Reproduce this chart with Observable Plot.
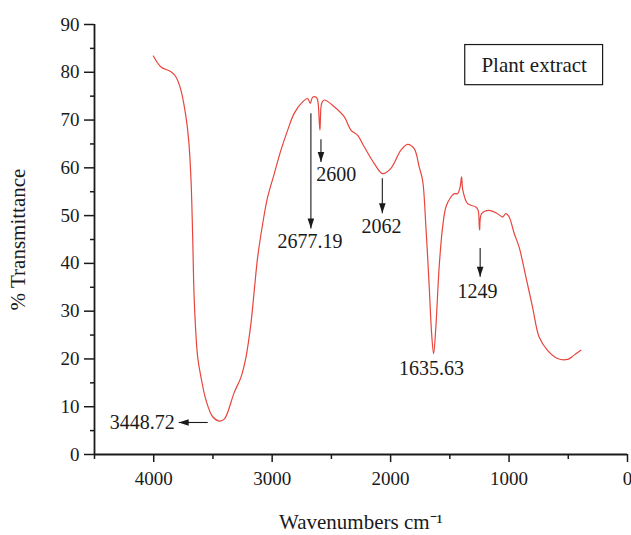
<!DOCTYPE html>
<html><head><meta charset="utf-8">
<script src="https://cdn.jsdelivr.net/npm/d3@7"></script>
<script src="https://cdn.jsdelivr.net/npm/@observablehq/plot@0.6"></script>
<style>body{margin:0;background:#fff}</style>
</head><body><div id="chart"></div>
<script>
// FTIR spectrum
const wavenumber = [4003,3938,3854,3812,3770,3728,3705,3685,3671,3657,3629,3601,3559,3502,3446,3404,3320,3263,3221,3179,3151,3122,3080,3038,2982,2926,2869,2814,2743,2700,2678,2658,2630,2616,2597,2582,2560,2476,2392,2335,2278,2223,2138,2068,1997,1913,1857,1801,1759,1730,1702,1674,1654,1637,1618,1590,1561,1533,1491,1463,1435,1413,1401,1390,1350,1280,1261,1249,1232,1168,1097,1055,1027,999,957,915,858,802,746,675,591,506,451,394];
const transmittance = [83.4,81.1,80.1,79.0,76.2,70.7,65.8,57.4,45.5,31.7,20.4,16.2,11.4,7.9,7.0,7.4,13.0,16.2,20.4,27.5,34.4,41.4,48.3,53.9,58.8,63.7,67.9,71.4,73.8,74.5,73.5,74.8,74.8,74.2,67.9,73.5,74.2,72.8,70.7,67.9,66.8,64.4,60.9,58.8,59.9,63.7,64.9,64.0,60.2,57.4,47.6,35.1,25.4,21.1,26.7,39.3,47.6,51.8,53.9,54.6,54.6,56.0,58.1,55.3,52.5,51.8,51.1,47.0,50.4,51.1,50.4,49.7,50.4,49.7,46.3,43.4,37.2,30.9,24.6,21.8,20.1,19.9,20.8,21.8];

const yTicks = [0,10,20,30,40,50,60,70,80,90];
const yMinor = [5,15,25,35,45,55,65,75,85];
const xTicks = [4000,3000,2000,1000,0];
const xMinor = [4500,3500,2500,1500,500];

// peak annotations
const peakLabel = ["3448.72","2677.19","2600","2062","1635.63","1249"];
const peakLabelX = [3823,2681,2459,2076,1654,1266];
const peakLabelY = [6.7,44.6,58.5,47.6,17.9,34.0];
const peakLabelAnchor = ["end","middle","middle","middle","middle","middle"];

const arrowX1 = [3544,2673,2588,2070,1244];
const arrowY1 = [6.7,71.4,66.0,57.8,43.2];
const arrowX2 = [3789,2673,2588,2070,1244];
const arrowY2 = [6.7,47.3,61.2,50.5,37.2];
const arrowRotate = [90,0,0,0,0];

const legendLabel = ["Plant extract"];

const spectrum = wavenumber.map((w,i)=>({w, t: transmittance[i]}));
const labels = peakLabel.map((s,i)=>({s, x: peakLabelX[i], y: peakLabelY[i], a: peakLabelAnchor[i]}));
const arrows = arrowX1.map((x1,i)=>({x1, y1: arrowY1[i], x2: arrowX2[i], y2: arrowY2[i], r: arrowRotate[i]}));

const head = {draw(ctx){ ctx.moveTo(0,0); ctx.lineTo(-3.3,-10); ctx.lineTo(3.3,-10); ctx.closePath(); }};

const chart = Plot.plot({
  width: 631, height: 535,
  marginLeft: 94, marginRight: 4, marginTop: 24, marginBottom: 81,
  style: {fontFamily: "'Liberation Serif', serif", fontSize: "19px", color: "#1a1a1a", background: "#fff", overflow: "visible"},
  x: {domain: [4500, 0]},
  y: {domain: [0, 90]},
  marks: [
    Plot.axisY(yTicks, {tickSize: 10, tickPadding: 5, strokeWidth: 1.5, tickFormat: d => String(d), label: null}),
    Plot.axisY(yMinor, {tickSize: 4, strokeWidth: 1.5, tickFormat: () => "", label: null}),
    Plot.axisX(xTicks, {tickSize: 8, tickPadding: 9, strokeWidth: 1.5, tickFormat: d => String(d), label: null}),
    Plot.axisX(xMinor, {tickSize: 5, strokeWidth: 1.5, tickFormat: () => "", label: null}),
    Plot.ruleX([4500], {strokeWidth: 1.8}),
    Plot.ruleY([0], {strokeWidth: 1.8}),
    Plot.line(spectrum, {x: "w", y: "t", stroke: "#e8453c", strokeWidth: 1.2, curve: "catmull-rom"}),
    Plot.link(arrows, {x1: "x1", y1: "y1", x2: "x2", y2: "y2", stroke: "#1a1a1a", strokeWidth: 1.1}),
    Plot.dot(arrows, {x: "x2", y: "y2", rotate: "r", symbol: head, fill: "#1a1a1a", stroke: "none"}),
    Plot.text(labels, {x: "x", y: "y", text: "s", textAnchor: "end", filter: d => d.a === "end", fontSize: 20}),
    Plot.text(labels, {x: "x", y: "y", text: "s", filter: d => d.a === "middle", fontSize: 20}),
    Plot.rect(legendLabel, {x1: 1370, x2: 206, y1: 77.3, y2: 85.7, fill: "#fff", stroke: "#1a1a1a", strokeWidth: 1.2}),
    Plot.text(legendLabel, {x: 788, y: 81.5, text: d => d, fontSize: 21}),
    Plot.text(["Wavenumbers cm⁻¹"], {frameAnchor: "bottom", lineAnchor: "middle", textAnchor: "middle", dy: 68, text: d => d, fontSize: 21}),
    Plot.text(["% Transmittance"], {frameAnchor: "left", lineAnchor: "middle", textAnchor: "middle", dx: -76, rotate: -90, text: d => d, fontSize: 21})
  ]
});
document.getElementById("chart").appendChild(chart);
</script>
</body></html>
